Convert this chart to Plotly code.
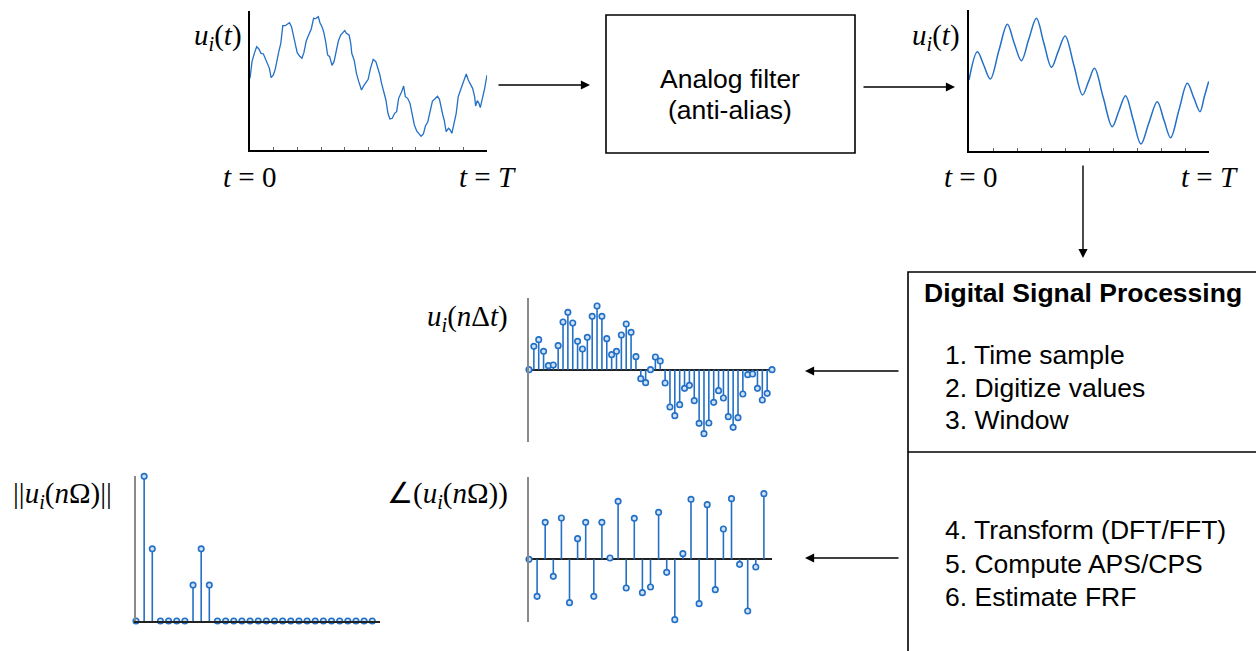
import plotly.graph_objects as go

# ---------------- data ----------------
# raw (unfiltered) signal u_i(t), t in arbitrary units 0..T
raw_t = [0,6,13,20,26,33,40,46,53,58,63,70,76,81,86,92,98,105,111,118,124,130,136,141,148,155,161,168,173,178,
         183,190,196,204,209,215,220,226,232,238,245,251,258,264,271,278,283,288,296,301,304,311,318,325,333,340,347,353,360,368,
         376,383,388,393,400,406,412,418,425,432,438,444,453,459,464,471,478,484,491,498,505,511,518,524,531,538,545,552,560,566,
         572,576,580,586,593,598,603,610,616,622,628,635,641,646,652,658,665,671,674,679,684,688,694,701,708]
raw_u = [0.00,0.50,0.75,0.95,0.89,0.75,0.73,0.57,0.43,0.30,
         0.02,0.10,0.30,0.60,0.80,1.05,1.58,1.58,1.62,1.67,
         1.55,1.25,0.95,0.77,0.67,0.60,0.77,1.12,1.25,1.38,
         1.48,1.80,1.79,1.85,1.67,1.55,1.40,1.10,0.70,0.65,
         0.39,0.50,0.85,1.12,1.30,1.38,1.43,1.35,1.30,1.05,
         0.75,0.55,0.15,-0.10,-0.35,-0.22,-0.10,-0.03,0.30,0.57,
         0.50,0.30,0.10,-0.15,-0.40,-0.65,-1.05,-1.22,-1.20,-1.05,
         -1.00,-0.60,-0.40,-0.23,-0.55,-0.60,-0.75,-1.05,-1.40,-1.58,
         -1.65,-1.74,-1.67,-1.43,-1.31,-0.95,-0.68,-0.62,-0.54,-0.63,
         -0.95,-1.10,-1.25,-1.60,-1.50,-1.55,-1.65,-1.30,-1.05,-0.55,
         -0.35,-0.18,-0.01,0.13,-0.05,-0.18,-0.30,-0.55,-0.83,-0.67,
         -0.75,-0.88,-0.63,-0.30,0.10]

# filtered signal u_i(t)
filt_t = [0,25,44,64,90,115,135,157,179,202,224,247,267,288,314,340,358,376,402,429,
          449,469,492,515,539,564,584,604,629,654,673,692,705,718]
filt_u = [0.00,0.85,0.45,0.03,0.90,1.67,1.12,0.58,1.22,1.85,1.12,0.38,0.85,1.32,0.45,-0.45,-0.05,0.35,-0.52,-1.40,
          -0.93,-0.47,-1.20,-1.92,-1.28,-0.65,-1.20,-1.73,-0.90,-0.10,-0.52,-0.95,-0.50,-0.04]

# sampled signal u_i(n dt)
samp_u = [0, 0.70, 0.90, 0.55, 0.12, 0.14, 0.72, 1.43, 1.72, 1.40,
          0.85, 0.62, 0.97, 1.60, 1.91, 1.60, 0.93, 0.45, 0.55, 1.04,
          1.37, 1.12, 0.39, -0.27, -0.39, 0, 0.38, 0.26, -0.40, -1.12,
          -1.38, -1.05, -0.56, -0.47, -0.93, -1.61, -1.92, -1.60, -0.98, -0.63,
          -0.85, -1.41, -1.73, -1.44, -0.73, -0.15, -0.13, -0.56, -0.91, -0.71, 0]

# spectrum magnitude and phase
mag_u = [0, 4.35, 2.17, 0, 0, 0, 0, 1.08, 2.17, 1.08] + [0] * 20
phase_u = [0, -1.11, 1.11, -0.51, 1.24, -1.30, 0.62, 1.11, -1.11, 1.11,
           0.04, 1.74, -0.86, 1.23, -1.00, -0.83, 1.41, -0.39, -1.81, 0.17,
           1.80, -1.33, 1.64, -0.91, 0.91, 1.82, -0.15, -1.55, -0.23, 1.97]

dsp_steps_a = ["1. Time sample", "2. Digitize values", "3. Window"]
dsp_steps_b = ["4. Transform (DFT/FFT)", "5. Compute APS/CPS", "6. Estimate FRF"]

# ---------------- layout helpers ----------------
W, H = 1256, 651
def PX(x): return x / W
def PY(y): return 1 - y / H

BLUE = "#2370c6"
MFILL = "#cfe2f5"
MATHFONT = dict(family="Liberation Serif", size=29, color="black")
SANS = dict(family="Liberation Sans", size=26.5, color="black")

fig = go.Figure()

# continuous signals
fig.add_trace(go.Scatter(x=raw_t, y=raw_u, mode="lines", line=dict(color=BLUE, width=1.3),
                         xaxis="x", yaxis="y", hoverinfo="skip"))
fig.add_trace(go.Scatter(x=filt_t, y=filt_u, mode="lines", line=dict(color=BLUE, width=1.5, shape="spline", smoothing=1.0),
                         xaxis="x2", yaxis="y2", hoverinfo="skip"))

def add_stem(vals, xa, ya):
    xs, ys = [], []
    for n, v in enumerate(vals):
        xs += [n, n, None]
        ys += [0, v, None]
    fig.add_trace(go.Scatter(x=xs, y=ys, mode="lines", line=dict(color=BLUE, width=1.6),
                             xaxis=xa, yaxis=ya, hoverinfo="skip", cliponaxis=False))
    fig.add_trace(go.Scatter(x=list(range(len(vals))), y=vals, mode="markers",
                             marker=dict(symbol="circle", size=5.5, color=MFILL, line=dict(color=BLUE, width=1.6)),
                             xaxis=xa, yaxis=ya, hoverinfo="skip", cliponaxis=False))

add_stem(samp_u, "x3", "y3")
add_stem(phase_u, "x4", "y4")
add_stem(mag_u, "x5", "y5")

def dom(a, b, horiz=True):
    if horiz:
        return [PX(a), PX(b)]
    return [PY(b), PY(a)]

base_ax = dict(showgrid=False, zeroline=False, showticklabels=False, ticks="", fixedrange=True)

layout = dict(
    width=W, height=H, margin=dict(l=0, r=0, t=0, b=0),
    paper_bgcolor="white", plot_bgcolor="rgba(0,0,0,0)", showlegend=False,
    # top-left raw signal
    xaxis=dict(base_ax, domain=dom(250, 487), range=[0, 708], anchor="y", showline=True, linecolor="black", linewidth=1.5,
               ticks="inside", ticklen=3, tickcolor="#666", tickwidth=1, tick0=0, dtick=70.8),
    yaxis=dict(base_ax, domain=dom(11, 150, False), range=[-2.15, 2.02], anchor="x", showline=True, linecolor="black", linewidth=1.8),
    # top-right filtered signal
    xaxis2=dict(base_ax, domain=dom(969, 1209), range=[0, 719], anchor="y2", showline=True, linecolor="black", linewidth=1.5,
                ticks="inside", ticklen=3, tickcolor="#666", tickwidth=1, tick0=0, dtick=71.9),
    yaxis2=dict(base_ax, domain=dom(10, 151, False), range=[-2.13, 2.10], anchor="x2", showline=True, linecolor="black", linewidth=1.8),
    # sampled signal
    xaxis3=dict(base_ax, domain=dom(529, 773), range=[0, 50.2], anchor="y3"),
    yaxis3=dict(base_ax, domain=dom(298, 442, False), range=[-2.17, 2.15], anchor="x3", showline=True, linecolor="#8a8a8a", linewidth=2,
                zeroline=True, zerolinecolor="#222", zerolinewidth=1.5),
    # phase
    xaxis4=dict(base_ax, domain=dom(529, 772), range=[0, 30.0], anchor="y4"),
    yaxis4=dict(base_ax, domain=dom(477, 622, False), range=[-1.88, 2.47], anchor="x4", showline=True, linecolor="#8a8a8a", linewidth=2,
                zeroline=True, zerolinecolor="#222", zerolinewidth=1.5),
    # magnitude
    xaxis5=dict(base_ax, domain=dom(136, 380), range=[0, 29.95], anchor="y5", showline=True, linecolor="#222", linewidth=1.8),
    yaxis5=dict(base_ax, domain=dom(476, 621, False), range=[0, 4.36], anchor="x5", showline=True, linecolor="#8a8a8a", linewidth=2),
)
fig.update_layout(**layout)

shapes = [
    dict(type="rect", xref="paper", yref="paper", x0=PX(606), x1=PX(855), y0=PY(153), y1=PY(15),
         line=dict(color="black", width=1.6)),
    dict(type="rect", xref="paper", yref="paper", x0=PX(908), x1=PX(1270), y0=PY(670), y1=PY(272),
         line=dict(color="black", width=1.6)),
    dict(type="line", xref="paper", yref="paper", x0=PX(908), x1=PX(1256), y0=PY(452), y1=PY(452),
         line=dict(color="black", width=1.6)),
]
fig.update_layout(shapes=shapes)

ann = []
def text(x, y, s, font, xanchor="center"):
    ann.append(dict(x=PX(x), y=PY(y), xref="paper", yref="paper", text=s, showarrow=False,
                    xanchor=xanchor, yanchor="middle", font=font))

def arrow(x0, y0, x1, y1):
    ann.append(dict(x=PX(x1), y=PY(y1), xref="paper", yref="paper", ax=x0 - x1, ay=y0 - y1,
                    axref="pixel", ayref="pixel", text="", showarrow=True, arrowhead=2, arrowsize=1.3,
                    arrowwidth=1.4, arrowcolor="black", standoff=0, startstandoff=0))

UI = "<i>u</i><sub><i>i</i></sub>"
text(244, 37, UI + "(<i>t</i>)", MATHFONT, "right")
text(962, 37, UI + "(<i>t</i>)", MATHFONT, "right")
text(249, 177, "<i>t</i> = 0", MATHFONT)
text(487, 177, "<i>t</i> = <i>T</i>", MATHFONT)
text(970, 177, "<i>t</i> = 0", MATHFONT)
text(1209, 177, "<i>t</i> = <i>T</i>", MATHFONT)
text(510, 318, UI + "(<i>n</i>Δ<i>t</i>)", MATHFONT, "right")
text(510, 495, "∠(" + UI + "(<i>n</i>Ω))", MATHFONT, "right")
text(114, 495, "||" + UI + "(<i>n</i>Ω)||", MATHFONT, "right")

text(730, 79, "Analog filter", SANS)
text(730, 110, "(anti-alias)", SANS)
text(1083, 293, "<b>Digital Signal Processing</b>", SANS)
for i, s in enumerate(dsp_steps_a):
    text(943, 355 + i * 32.5, s, SANS, "left")
for i, s in enumerate(dsp_steps_b):
    text(943, 530 + i * 33.5, s, SANS, "left")

arrow(497, 85, 590, 85)
arrow(862, 87, 955, 87)
arrow(1083, 164, 1083, 258)
arrow(900, 371, 805, 371)
arrow(900, 558, 805, 558)

fig.update_layout(annotations=ann)
fig.write_html("out.html", config=dict(displayModeBar=False),
               post_script="document.body.style.margin='0px';document.body.style.overflow='hidden';")
